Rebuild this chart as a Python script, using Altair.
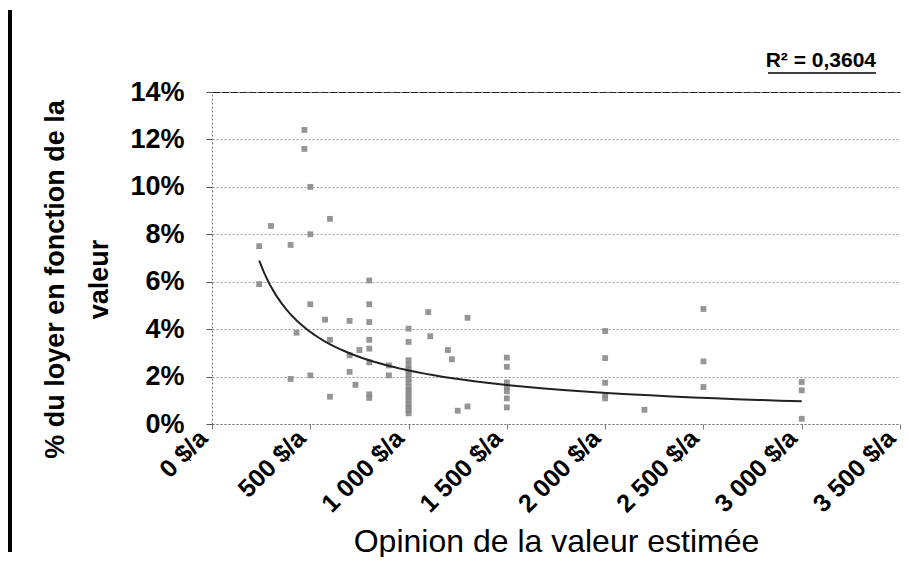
import altair as alt
import pandas as pd

# Opinion de la valeur estimée ($/a)
valeur = [
    240, 240, 300, 400, 400, 430, 470, 470, 500, 500, 500, 500,
    575, 600, 600, 600, 700, 700, 700, 730, 750,
    800, 800, 800, 800, 800, 800, 800, 800, 900, 900,
    1000, 1000, 1000, 1000, 1000, 1000, 1000, 1000, 1000, 1000,
    1000, 1000, 1000, 1000, 1000, 1000, 1000, 1000,
    1100, 1110, 1200, 1220, 1250, 1300, 1300,
    1500, 1500, 1500, 1500, 1500, 1500, 1500,
    2000, 2000, 2000, 2000, 2000,
    2200,
    2500, 2500, 2500,
    3000, 3000, 3000,
]
# % du loyer en fonction de la valeur
pct_loyer = [
    5.9, 7.5, 8.35, 7.55, 1.9, 3.85, 12.4, 11.6, 10.0, 8.0, 5.05, 2.05,
    4.4, 8.65, 3.55, 1.15, 4.35, 2.9, 2.2, 1.65, 3.12,
    6.05, 5.05, 4.3, 3.55, 3.18, 2.6, 1.25, 1.1, 2.47, 2.05,
    4.02, 3.46, 2.69, 2.48, 2.3, 2.19, 2.05, 1.91, 1.75, 1.56,
    1.42, 1.28, 1.14, 1.0, 0.85, 0.72, 0.58, 0.45,
    4.72, 3.7, 3.12, 2.73, 0.56, 4.48, 0.74,
    2.8, 2.41, 1.75, 1.55, 1.38, 1.08, 0.7,
    3.92, 2.78, 1.74, 1.2, 1.08,
    0.6,
    4.85, 2.64, 1.56,
    1.77, 1.42, 0.22,
]
x_ticks = [0, 500, 1000, 1500, 2000, 2500, 3000, 3500]
y_ticks = [0, 0.02, 0.04, 0.06, 0.08, 0.10, 0.12, 0.14]
r2_label = "R² = 0,3604"

df = pd.DataFrame({"valeur": valeur, "pct": [v / 100 for v in pct_loyer]})

FONT = "Liberation Sans"
W, H = 688, 332

x_scale = alt.Scale(domain=[0, 3500], nice=False, zero=True)
y_scale = alt.Scale(domain=[0, 0.14], nice=False)

x_axis = alt.Axis(
    values=x_ticks,
    labelExpr="replace(format(datum.value, ',d'), ',', ' ') + ' $/a'",
    labelAngle=315, labelAlign="right", labelBaseline="bottom",
    labelFont=FONT, labelFontSize=25, labelFontWeight="bold", labelColor="black",
    labelPadding=14, labelOffset=0, labelOverlap=False, labelFlush=False,
    title="Opinion de la valeur estimée",
    titleFont=FONT, titleFontSize=32, titleFontWeight="normal", titleColor="black",
    titleY=102, titleBaseline="top",
    domainColor="#777", domainDash=[2, 2], domainWidth=1,
    tickColor="#777", tickSize=5, grid=False,
)
y_axis = alt.Axis(
    values=y_ticks, format=".0%",
    labelFont=FONT, labelFontSize=27, labelFontWeight="bold", labelColor="black",
    labelPadding=22,
    title=["% du loyer en fonction de la", "valeur"],
    titleFont=FONT, titleFontSize=27, titleFontWeight="bold", titleColor="black",
    titleLineHeight=44, titleX=-143, titleY=187, titleAngle=270,
    titleAlign="center", titleBaseline="bottom",
    domainColor="#777", domainDash=[2, 2], domainWidth=1,
    tickColor="#555", tickSize=6,
    grid=True,
    gridColor={"condition": {"test": "datum.value >= 0.139", "value": "#222"}, "value": "#999"},
    gridDash={"condition": {"test": "datum.value >= 0.139", "value": [8, 1]}, "value": [2, 2]},
    gridWidth=1,
)

base = alt.Chart(df)

points = base.mark_point(
    shape="square", filled=True, size=34, color="#8a8a8a", opacity=0.9
).encode(
    x=alt.X("valeur:Q", scale=x_scale, axis=x_axis),
    y=alt.Y("pct:Q", scale=y_scale, axis=y_axis),
)

trend = base.transform_regression(
    "valeur", "pct", method="pow"
).mark_line(color="#222", strokeWidth=2).encode(
    x=alt.X("valeur:Q", scale=x_scale),
    y=alt.Y("pct:Q", scale=y_scale),
)

one = alt.Data(values=[{}])

r2_text = alt.Chart(one).mark_text(
    text=r2_label, font=FONT, fontSize=21, fontWeight="bold",
    align="right", baseline="alphabetic", color="black",
).encode(x=alt.value(W - 24), y=alt.value(-25))

r2_line = alt.Chart(one).mark_rule(color="black", strokeWidth=1.5).encode(
    x=alt.value(W - 132), x2=alt.value(W - 24), y=alt.value(-19)
)

left_bar = alt.Chart(one).mark_rule(color="black", strokeWidth=4).encode(
    x=alt.value(-202), y=alt.value(-82), y2=alt.value(460)
)

chart = alt.layer(left_bar, points, trend, r2_line, r2_text).properties(
    width=W, height=H,
    padding={"left": 0, "top": 0, "right": 0, "bottom": 0},
    background="white",
).configure_view(stroke=None)

chart.save("out.html", embed_options={"renderer": "svg", "actions": False})
